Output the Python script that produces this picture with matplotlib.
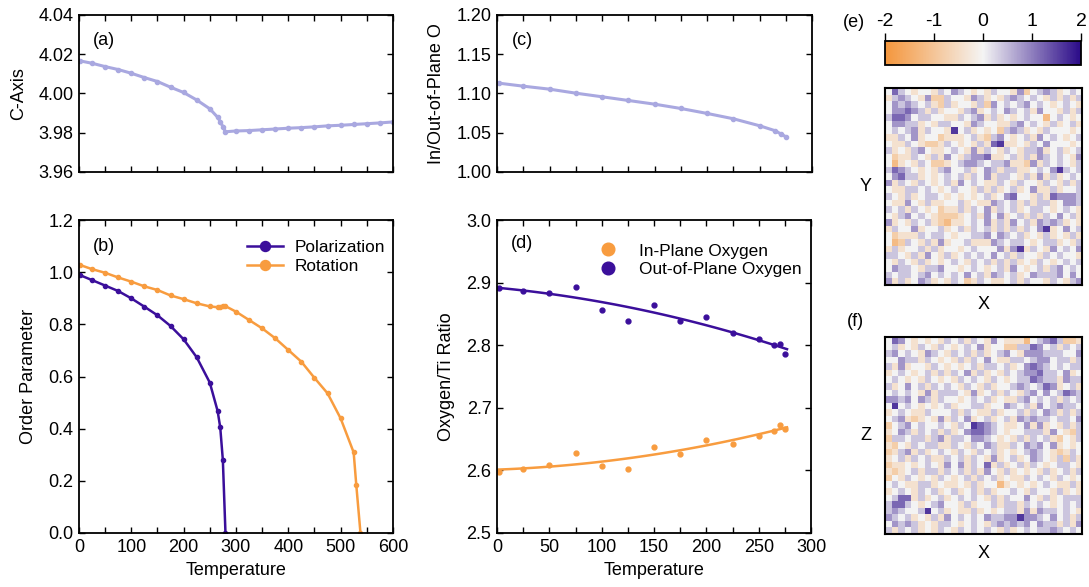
import numpy as np
import matplotlib
matplotlib.use("Agg")
import matplotlib.pyplot as plt
from matplotlib.colors import LinearSegmentedColormap
from matplotlib.ticker import MultipleLocator

plt.rcParams["font.family"] = ["Liberation Sans", "DejaVu Sans"]
plt.rcParams["axes.unicode_minus"] = False

PURPLE = "#3b0f9b"
ORANGE = "#f89c3f"
LAVENDER = "#a9a8e0"
FS = 13
LEG_FS = 12.4

# (a) c-axis
temp_a = [2, 25, 50, 75, 100, 125, 150, 175, 200, 225, 250, 265, 270, 275, 280,
          300, 325, 350, 375, 400, 425, 450, 475, 500, 525, 550, 575, 600]
c_axis = [4.0166, 4.0154, 4.0137, 4.0122, 4.0103, 4.0081, 4.0061, 4.0032, 4.0005,
          3.9967, 3.9922, 3.9879, 3.9857, 3.9831, 3.9805, 3.9809, 3.9811, 3.9815,
          3.9819, 3.9823, 3.9826, 3.9830, 3.9835, 3.9838, 3.9842, 3.9846, 3.9850,
          3.9855]

# (b) order parameters
temp_pol = [2, 25, 50, 75, 100, 125, 150, 175, 200, 225, 250, 265, 270, 275, 280]
polarization = [0.989, 0.970, 0.949, 0.928, 0.900, 0.868, 0.835, 0.794, 0.743,
                0.674, 0.577, 0.468, 0.405, 0.280, 0.0]
temp_rot = [2, 25, 50, 75, 100, 125, 150, 175, 200, 225, 250, 265, 270, 275, 280,
            300, 325, 350, 375, 400, 425, 450, 475, 500, 525, 530, 538]
rotation = [1.028, 1.012, 0.998, 0.980, 0.964, 0.946, 0.932, 0.911, 0.897, 0.881,
            0.869, 0.866, 0.868, 0.872, 0.870, 0.849, 0.817, 0.785, 0.747, 0.702,
            0.657, 0.595, 0.536, 0.440, 0.309, 0.184, 0.0]

# (c), (d) oxygen
temp_o = [2, 25, 50, 75, 100, 125, 150, 175, 200, 225, 250, 265, 270, 275]
in_out_ratio = [1.1131, 1.1093, 1.1055, 1.1004, 1.0958, 1.0911, 1.0864, 1.0809,
                1.0746, 1.0678, 1.0589, 1.0525, 1.0487, 1.0449]
out_plane = [2.891, 2.887, 2.8835, 2.8926, 2.857, 2.839, 2.865, 2.838, 2.845,
             2.820, 2.810, 2.8005, 2.8016, 2.7856]
in_plane = [2.5968, 2.6027, 2.6085, 2.6277, 2.6064, 2.6016, 2.6378, 2.626,
            2.6484, 2.6426, 2.6553, 2.6628, 2.6723, 2.6665]

# (e), (f) local maps, digit d -> (d - 4) * 0.4
map_e = [
    "475434435465434354436245653454",
    "356543622544365343565454353535",
    "465654532534435264545645434543",
    "466765353443563454654536443535",
    "577645544335456353434544145434",
    "466553435544365443356454353453",
    "454563544384534342565343544434",
    "335463442333453256434536454345",
    "433543223543435378334354644434",
    "534356433454363543543556345345",
    "423354353643566733453536545436",
    "413435422345665455633263545435",
    "576543435644534653553345468545",
    "467553434545354635543536353454",
    "635435434536454335435443543535",
    "433554543454435353453463353445",
    "543534554343434534674435376665",
    "433643533445343365453535534665",
    "545354342335354635453455434543",
    "435645432223453646345353546453",
    "634354532133454635364536565343",
    "354463445345354535353546834645",
    "423335455434455646545343534353",
    "412543536344533365455434553435",
    "353445353443454446368354364546",
    "554353643534545464535443545443",
    "435435343454354535353435434545",
    "465543556443454345364345356454",
    "545545645454645365453465556464",
    "635346534354235433453544354356",
]
map_f = [
    "476434343545354364333145675223",
    "453435435434546344225576453545",
    "564543654354535345643666555446",
    "446553543435354643355456645535",
    "536344354343453554534676545455",
    "345434535354635343545667554634",
    "454343543435454354345576553655",
    "534645354543543534456545763453",
    "454543635554363453543564645765",
    "665646535443454534335645453545",
    "484543434534455344654536456554",
    "345433544453543353445354653535",
    "456323436354634534536565545546",
    "245645445435487654334636343535",
    "346535453534677654344555364325",
    "255455356355466543435354532435",
    "324354553354354653354656463434",
    "235635345435435453434565432354",
    "345354533545354363453465435253",
    "233434543646354735345354345543",
    "323453553545353643534343534535",
    "243543435434535453433545435434",
    "454335534334353441343434543353",
    "345435453453453534454354435343",
    "457735345345454353544643534555",
    "577543456443534453553545434545",
    "565445845343353434553636554543",
    "654534353645454655668665464535",
    "465653435543454356565646553536",
    "535453435435454543534545565454",
]


def style_axes(ax):
    ax.tick_params(direction="in", which="both", top=True, right=True,
                   length=4.5, width=1.0, labelsize=FS, pad=4)
    for s in ax.spines.values():
        s.set_linewidth(1.3)


fig = plt.figure(figsize=(10.89, 5.87), dpi=100)

ax_a = fig.add_axes([0.0725, 0.707, 0.2883, 0.2675])
ax_b = fig.add_axes([0.0725, 0.092, 0.2883, 0.533])
ax_c = fig.add_axes([0.4564, 0.707, 0.2893, 0.2675])
ax_d = fig.add_axes([0.4564, 0.092, 0.2884, 0.533])

# (a)
ax_a.plot(temp_a, c_axis, color=LAVENDER, lw=2.2, marker="o", ms=3)
ax_a.set_xlim(0, 600)
ax_a.set_ylim(3.96, 4.04)
ax_a.xaxis.set_major_locator(MultipleLocator(50))
ax_a.yaxis.set_major_locator(MultipleLocator(0.02))
ax_a.yaxis.set_major_formatter(plt.FormatStrFormatter("%.2f"))
ax_a.set_xticklabels([])
ax_a.set_ylabel("C-Axis", fontsize=FS, labelpad=8)
style_axes(ax_a)
ax_a.text(0.045, 0.84, "(a)", transform=ax_a.transAxes, fontsize=FS, va="center")

# (b)
ax_b.plot(temp_pol, polarization, color=PURPLE, lw=1.8, marker="o", ms=3,
          label="Polarization")
ax_b.plot(temp_rot, rotation, color=ORANGE, lw=1.8, marker="o", ms=3,
          label="Rotation")
ax_b.set_xlim(0, 600)
ax_b.set_ylim(0, 1.2)
ax_b.xaxis.set_major_locator(MultipleLocator(100))
ax_b.xaxis.set_minor_locator(MultipleLocator(50))
ax_b.yaxis.set_major_locator(MultipleLocator(0.2))
ax_b.yaxis.set_major_formatter(plt.FormatStrFormatter("%.1f"))
ax_b.set_xlabel("Temperature", fontsize=FS, labelpad=5)
ax_b.set_ylabel("Order Parameter", fontsize=FS, labelpad=8)
style_axes(ax_b)
ax_b.tick_params(which="minor", length=4.5)
ax_b.text(0.045, 0.915, "(b)", transform=ax_b.transAxes, fontsize=FS, va="center")
ax_b.legend(loc="upper right", bbox_to_anchor=(1.025, 0.985), frameon=False,
            fontsize=LEG_FS, markerscale=2.4, handlelength=2.1, handletextpad=0.7,
            labelspacing=0.2)

# (c)
ax_c.plot(temp_o, in_out_ratio, color=LAVENDER, lw=2.2, marker="o", ms=3)
ax_c.set_xlim(0, 300)
ax_c.set_ylim(1.0, 1.2)
ax_c.xaxis.set_major_locator(MultipleLocator(25))
ax_c.yaxis.set_major_locator(MultipleLocator(0.05))
ax_c.yaxis.set_major_formatter(plt.FormatStrFormatter("%.2f"))
ax_c.set_xticklabels([])
ax_c.set_ylabel("In/Out-of-Plane O", fontsize=FS, labelpad=8)
style_axes(ax_c)
ax_c.text(0.048, 0.84, "(c)", transform=ax_c.transAxes, fontsize=FS, va="center")

# (d)
tt = np.array(temp_o, dtype=float)
grid = np.linspace(0, 277, 120)
fit_out = np.polyval(np.polyfit(tt, out_plane, 2), grid)
fit_in = np.polyval(np.polyfit(tt, in_plane, 2), grid)
ax_d.plot(grid, fit_out, color=PURPLE, lw=1.8)
ax_d.plot(grid, fit_in, color=ORANGE, lw=1.8)
ax_d.plot(temp_o, in_plane, "o", color=ORANGE, ms=3.5, label="In-Plane Oxygen")
ax_d.plot(temp_o, out_plane, "o", color=PURPLE, ms=3.5,
          label="Out-of-Plane Oxygen")
ax_d.set_xlim(0, 300)
ax_d.set_ylim(2.5, 3.0)
ax_d.xaxis.set_major_locator(MultipleLocator(50))
ax_d.xaxis.set_minor_locator(MultipleLocator(25))
ax_d.yaxis.set_major_locator(MultipleLocator(0.1))
ax_d.yaxis.set_major_formatter(plt.FormatStrFormatter("%.1f"))
ax_d.set_xlabel("Temperature", fontsize=FS, labelpad=5)
ax_d.set_ylabel("Oxygen/Ti Ratio", fontsize=FS, labelpad=8)
style_axes(ax_d)
ax_d.tick_params(which="minor", length=4.5)
ax_d.text(0.045, 0.925, "(d)", transform=ax_d.transAxes, fontsize=FS, va="center")
ax_d.legend(loc="upper right", bbox_to_anchor=(1.02, 0.975), frameon=False,
            fontsize=LEG_FS, markerscale=2.6, handlelength=1.0, handletextpad=1.3,
            labelspacing=0.2)

# (e), (f)
cmap = LinearSegmentedColormap.from_list(
    "oxy", [(0.0, "#f4963c"), (0.5, "#f4f4f4"), (1.0, "#2a0a88")])


def to_array(rows):
    return np.array([[(int(ch) - 4) * 0.4 for ch in r] for r in rows])


ax_e = fig.add_axes([0.8127, 0.5145, 0.1809, 0.3356])
ax_f = fig.add_axes([0.8127, 0.0903, 0.1809, 0.3356])
for ax, rows, ylab in [(ax_e, map_e, "Y"), (ax_f, map_f, "Z")]:
    im = ax.imshow(to_array(rows), cmap=cmap, vmin=-2, vmax=2,
                   interpolation="nearest", aspect="auto")
    ax.set_xticks([])
    ax.set_yticks([])
    for s in ax.spines.values():
        s.set_linewidth(1.5)
    ax.set_xlabel("X", fontsize=FS, labelpad=8)
    ax.set_ylabel(ylab, fontsize=FS, rotation=0, labelpad=14, va="center")

fig.text(0.774, 0.962, "(e)", fontsize=FS, va="center")
fig.text(0.778, 0.452, "(f)", fontsize=FS, va="center")

cax = fig.add_axes([0.8127, 0.8893, 0.18, 0.0409])
cb = fig.colorbar(im, cax=cax, orientation="horizontal", ticklocation="top",
                  ticks=[-2, -1, 0, 1, 2])
cb.ax.tick_params(labelsize=14, length=6, width=1.0, direction="out", pad=2)
cb.outline.set_linewidth(1.3)

fig.savefig("out.png", dpi=100)
